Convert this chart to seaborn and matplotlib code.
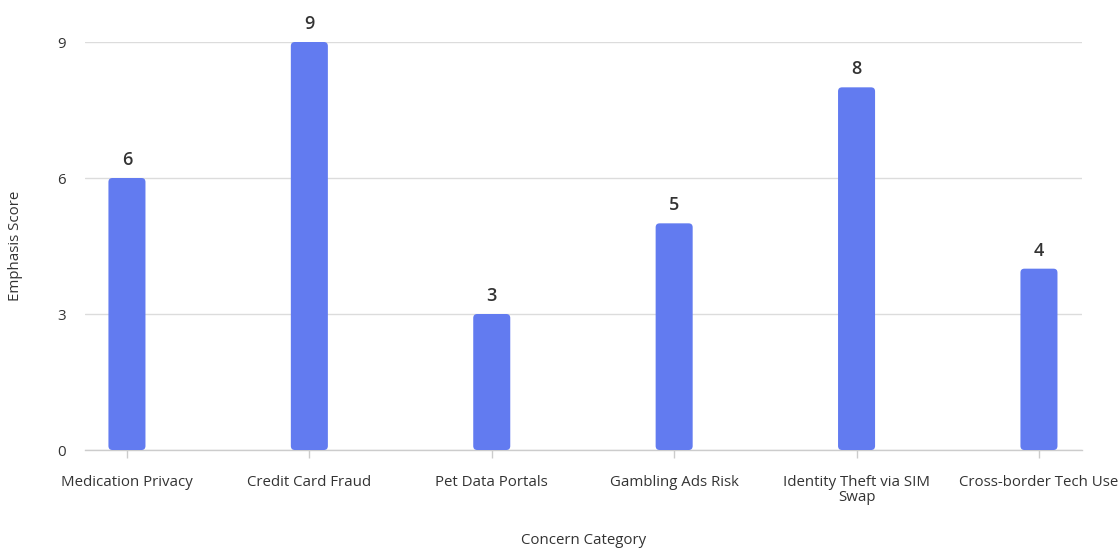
import matplotlib
matplotlib.use("Agg")
import matplotlib.pyplot as plt
from matplotlib.patches import FancyBboxPatch
import seaborn as sns
import pandas as pd

categories = ["Medication Privacy", "Credit Card Fraud", "Pet Data Portals",
              "Gambling Ads Risk", "Identity Theft via SIM\nSwap", "Cross-border Tech Use"]
scores = [6, 9, 3, 5, 8, 4]
y_ticks = [0, 3, 6, 9]

bar_color = "#627BF0"
text_color = "#333333"

sns.set_theme(style="white")
plt.rcParams["font.family"] = ["Open Sans", "DejaVu Sans"]

df = pd.DataFrame({"Concern Category": categories, "Emphasis Score": scores})

fig = plt.figure(figsize=(11.2, 5.48), dpi=100)
ax = fig.add_axes([85 / 1120, 98 / 548, (1082 - 85) / 1120, (450 - 42) / 548])

sns.barplot(data=df, x="Concern Category", y="Emphasis Score", color=bar_color,
            width=0.203, saturation=1, ax=ax, zorder=3)

ax.set_xlim(-0.23, 5.236)
ax.set_ylim(0, 9)

# swap plain rectangles for rounded-corner bars
px_x = (1082 - 85) / (5.236 + 0.23)
px_y = (450 - 42) / 9
aspect = px_x / px_y
patches = list(ax.patches)
for p in patches:
    x, y = p.get_x(), p.get_y()
    w, h = p.get_width(), p.get_height()
    rounded = FancyBboxPatch((x, y), w, h,
                             boxstyle=f"round,pad=0,rounding_size={4 / px_x}",
                             mutation_aspect=aspect,
                             facecolor=bar_color, edgecolor="none", zorder=3)
    p.remove()
    ax.add_patch(rounded)

for i, v in enumerate(scores):
    ax.text(i, v + 0.2, str(v), ha="center", va="bottom", fontsize=13,
            fontweight="semibold", color=text_color, clip_on=False)

ax.set_yticks(y_ticks)
ax.yaxis.grid(True, color="#dcdcdc", linewidth=1, zorder=0)
ax.set_axisbelow(True)
for side in ["top", "right", "left"]:
    ax.spines[side].set_visible(False)
ax.spines["bottom"].set_color("#cccccc")
ax.spines["bottom"].set_linewidth(1)

ax.tick_params(axis="x", length=6, width=1, color="#cccccc", pad=12,
               labelsize=10.8, labelcolor=text_color, bottom=True)
ax.tick_params(axis="y", length=0, pad=14, labelsize=10.8, labelcolor=text_color)
for lbl in ax.get_xticklabels() + ax.get_yticklabels():
    lbl.set_linespacing(1.0)
    lbl.set_fontweight("medium")

ax.set_xlabel("Concern Category", fontsize=10.8, fontweight="medium",
              color=text_color, va="center")
ax.set_ylabel("Emphasis Score", fontsize=10.8, fontweight="medium",
              color=text_color, va="center")
ax.xaxis.set_label_coords(0.5, (450 - 540) / 408)
ax.yaxis.set_label_coords((16 - 85) / 997, 0.5)

fig.savefig("out.png", dpi=100)
